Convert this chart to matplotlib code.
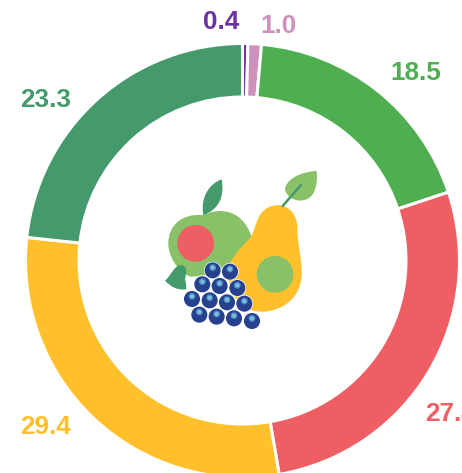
import matplotlib
matplotlib.use("Agg")
import matplotlib.pyplot as plt
from matplotlib.path import Path
from matplotlib.patches import PathPatch, Circle

plt.rcParams['font.family'] = ['Liberation Sans', 'DejaVu Sans']

#Chart data, clockwise from the top
values = [0.4, 1.0, 18.5, 27.4, 29.4, 23.3]
labels = ["0.4", "1.0", "18.5", "27.4", "29.4", "23.3"]
colors = ["#6B31A0", "#CC92BB", "#4FAF50", "#EF5E63", "#FFC02B", "#449A6B"]

#Label anchors in pixels from the top left
label_x = [221, 278, 416, 425, 45.5, 46]
label_y = [22, 26, 73, 414, 427, 99.5]
label_ha = ["center", "center", "center", "left", "center", "center"]

W, H = 462, 473
LIGHT_GREEN = "#88C167"
DARK_GREEN = "#449A6B"
BLUE = "#27418F"
HIGHLIGHT = "#4F8FC4"
HIGHLIGHT2 = "#7FBDE0"

grapes = [(188, 331), (240, 335),
          (157, 373), (209, 378), (262, 384),
          (126, 417), (179, 421), (231, 427), (283, 431),
          (148, 464), (200, 470), (252, 475), (306, 483)]


#Closed shape from a start point and cubic bezier segments
def blob(ax, start, segments, color, zorder=1):
    verts = [start]
    codes = [Path.MOVETO]
    for seg in segments:
        verts.extend(seg)
        codes.extend([Path.CURVE4] * 3)
    verts.append(start)
    codes.append(Path.CLOSEPOLY)
    ax.add_patch(PathPatch(Path(verts, codes), facecolor=color, edgecolor="none", zorder=zorder))


fig = plt.figure(figsize=(W / 100, H / 100), dpi=100)

ax = fig.add_axes([0, 0, 1, 1])
#white edge eats half its width on each side of the ring
ax.pie(values, colors=colors, startangle=90, counterclock=False,
       center=(242.5, H - 260.5), radius=217,
       wedgeprops=dict(width=53.5, edgecolor="white", linewidth=2.2))
ax.set_xlim(0, W)
ax.set_ylim(0, H)
ax.axis("off")

for txt, x, y, ha, color in zip(labels, label_x, label_y, label_ha, colors):
    ax.text(x, H - y, txt, color=color, fontsize=18.8, fontweight="bold", ha=ha, va="center")

#Fruit icon in the middle of the ring
icon = fig.add_axes([150 / W, 1 - 340 / H, 180 / W, 180 / H])
icon.set_xlim(0, 540)
icon.set_ylim(540, 0)
icon.axis("off")

#apple
blob(icon, (160, 165), [[(205, 143), (275, 145), (304, 228)],
                        [(270, 300), (200, 350), (120, 350)],
                        [(80, 330), (55, 290), (55, 250)],
                        [(55, 200), (90, 160), (160, 165)]], LIGHT_GREEN, 1)
blob(icon, (160, 165), [[(150, 110), (180, 70), (215, 58)],
                        [(225, 110), (205, 150), (160, 165)]], DARK_GREEN, 1)
icon.add_patch(Circle((137, 250), 53, color="#EF5E63", zorder=2))

#left leaf
blob(icon, (45, 362), [[(65, 345), (72, 315), (95, 315)],
                       [(115, 320), (108, 345), (105, 357)],
                       [(108, 370), (110, 380), (108, 388)],
                       [(80, 392), (60, 378), (45, 362)]], DARK_GREEN, 2)

#pear
icon.plot([398, 453], [138, 75], color=DARK_GREEN, lw=1.8, zorder=4, solid_capstyle="round")
blob(icon, (500, 33), [[(450, 35), (405, 60), (405, 90)],
                       [(415, 125), (470, 135), (490, 100)],
                       [(500, 80), (503, 55), (500, 33)]], LIGHT_GREEN, 3)
blob(icon, (385, 135), [[(425, 140), (442, 170), (442, 205)],
                        [(442, 250), (455, 290), (455, 340)],
                        [(455, 410), (400, 455), (335, 455)],
                        [(270, 455), (235, 400), (235, 340)],
                        [(235, 300), (270, 265), (295, 240)],
                        [(325, 210), (310, 140), (385, 135)]], "#FFC02B", 3)
icon.add_patch(Circle((375, 343), 53, color=LIGHT_GREEN, zorder=4))

#grapes
for gx, gy in grapes:
    icon.add_patch(Circle((gx, gy), 24, color="white", zorder=5))
    icon.add_patch(Circle((gx, gy), 22, color=BLUE, zorder=6))
    icon.add_patch(Circle((gx, gy - 8), 8, color=HIGHLIGHT, zorder=7))
    icon.add_patch(Circle((gx, gy - 8), 4, color=HIGHLIGHT2, zorder=8))

fig.savefig("out.png", dpi=100)
